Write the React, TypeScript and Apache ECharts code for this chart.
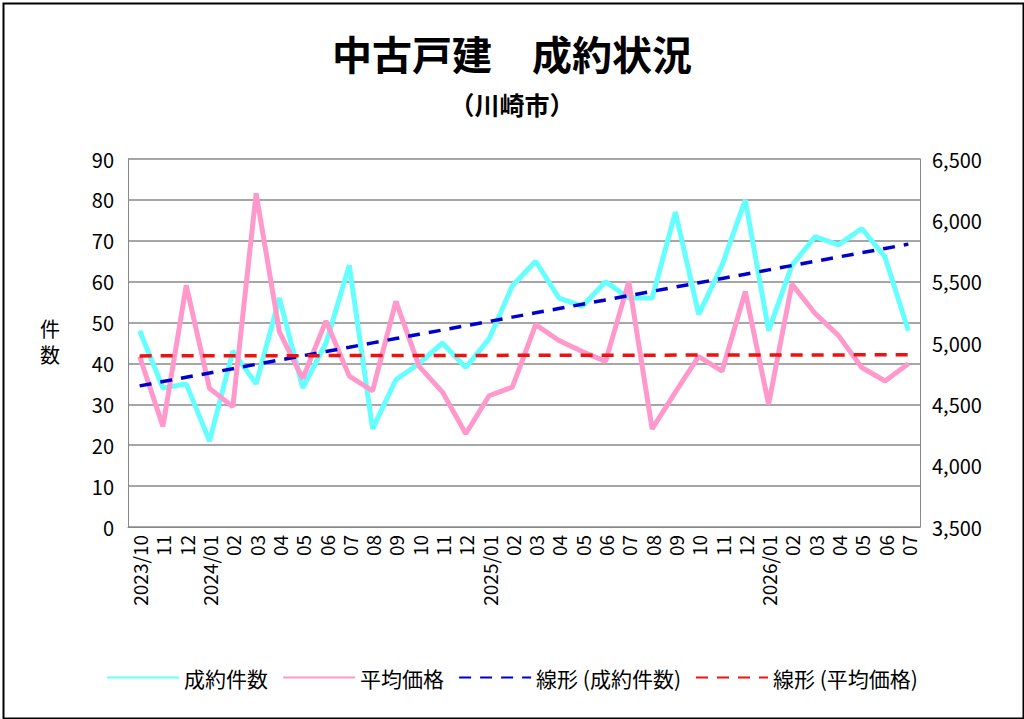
import React, { useEffect, useRef } from "react";
import * as echarts from "echarts";

const categories = ["2023/10","11","12","2024/01","02","03","04","05","06","07","08","09","10","11","12","2025/01","02","03","04","05","06","07","08","09","10","11","12","2026/01","02","03","04","05","06","07"];
const counts = [48,34,35,21,43,35,56,34,45,64,24,36,40,45,39,46,59,65,56,54,60,56,56,77,52,64,80,48,64,71,69,73,66,48];
const prices = [4890,4320,5470,4630,4480,6220,5090,4710,5180,4730,4610,5340,4810,4600,4260,4570,4640,5150,5020,4930,4850,5500,4300,4600,4890,4770,5420,4500,5480,5240,5060,4800,4690,4830];
const leftTicks = [0, 90, 10];
const rightTicks = [3500, 6500, 500];

function trend(v: number[]) {
  const n = v.length;
  const mx = (n - 1) / 2;
  const my = v.reduce((a, b) => a + b, 0) / n;
  let sxy = 0, sxx = 0;
  v.forEach((y, i) => { sxy += (i - mx) * (y - my); sxx += (i - mx) ** 2; });
  const b = sxy / sxx;
  return v.map((_, i) => +(my + b * (i - mx)).toFixed(2));
}

export default function App() {
  const ref = useRef<HTMLDivElement>(null);
  useEffect(() => {
    document.body.style.margin = "0";
    const chart = echarts.init(ref.current!, null, { renderer: "svg" });
    const font = "'Noto Sans CJK JP', 'Noto Sans', sans-serif";
    chart.setOption({
      animation: false,
      textStyle: { fontFamily: font },
      title: [
        { text: "中古戸建　成約状況", left: "center", top: 28, textStyle: { fontSize: 40, fontWeight: "bold", color: "#000", fontFamily: font } },
        { text: "（川崎市）", left: "center", top: 86, textStyle: { fontSize: 25, fontWeight: "bold", color: "#000", fontFamily: font } },
      ],
      graphic: [
        { type: "rect", left: 1, top: 1, shape: { width: 1020, height: 715 }, style: { fill: "none", stroke: "#000", lineWidth: 2 } },
        { type: "text", left: 40, top: 315, style: { text: "件\n数", fontSize: 20, lineHeight: 26, fill: "#000", fontFamily: font } },
      ],
      grid: { left: 128, right: 104, top: 159, bottom: 192 },
      legend: {
        bottom: 26, left: "center", itemWidth: 72, itemHeight: 6, itemGap: 14,
        itemStyle: { opacity: 0 },
        textStyle: { fontSize: 21, color: "#000", fontFamily: font },
        data: ["成約件数", "平均価格", "線形 (成約件数)", "線形 (平均価格)"],
      },
      xAxis: {
        type: "category", data: categories, boundaryGap: true,
        axisLine: { lineStyle: { color: "#888" } },
        axisTick: { alignWithLabel: true, inside: true, lineStyle: { color: "#888" } },
        axisLabel: { rotate: 90, fontSize: 19, color: "#000", interval: 0, margin: 8 },
      },
      yAxis: [
        { type: "value", min: leftTicks[0], max: leftTicks[1], interval: leftTicks[2],
          axisLine: { show: true, lineStyle: { color: "#888" } },
          splitLine: { lineStyle: { color: "#888", width: 1.5 } },
          axisLabel: { fontSize: 20, color: "#000", margin: 14 } },
        { type: "value", min: rightTicks[0], max: rightTicks[1], interval: rightTicks[2],
          axisLine: { show: true, lineStyle: { color: "#888" } },
          splitLine: { show: false },
          axisLabel: { fontSize: 20, color: "#000", margin: 12, formatter: (v: number) => v.toLocaleString("en-US") } },
      ],
      series: [
        { name: "成約件数", type: "line", data: counts, symbol: "none", lineStyle: { color: "#66FFFF", width: 5 }, itemStyle: { color: "#66FFFF" } },
        { name: "平均価格", type: "line", yAxisIndex: 1, data: prices, symbol: "none", lineStyle: { color: "#FF99CC", width: 5 }, itemStyle: { color: "#FF99CC" } },
        { name: "線形 (成約件数)", type: "line", data: trend(counts), symbol: "none", lineStyle: { color: "#0000CC", width: 3.5, type: [12, 9] }, itemStyle: { color: "#0000CC" } },
        { name: "線形 (平均価格)", type: "line", yAxisIndex: 1, data: trend(prices), symbol: "none", lineStyle: { color: "#EE1111", width: 3.5, type: [12, 9] }, itemStyle: { color: "#EE1111" } },
      ],
    });
    return () => chart.dispose();
  }, []);
  return <div ref={ref} style={{ width: 1024, height: 719 }} />;
}
